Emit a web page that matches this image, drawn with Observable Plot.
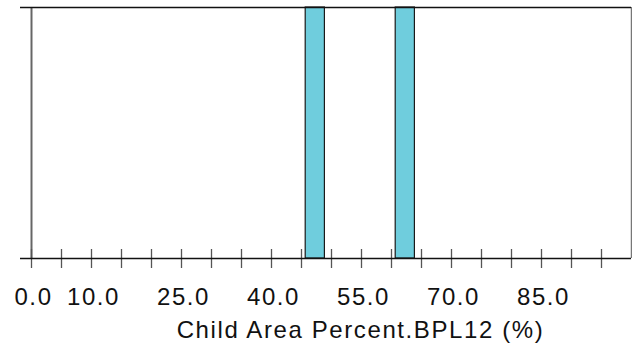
<!DOCTYPE html>
<html><head><meta charset="utf-8">
<script src="https://cdn.jsdelivr.net/npm/d3@7"></script>
<script src="https://cdn.jsdelivr.net/npm/@observablehq/plot@0.6"></script>
<style>
body{margin:0;background:#fff}
svg{display:block}
svg text{letter-spacing:1.6px}
</style>
</head><body><div id="chart"></div>
<script>
const binStart = [45.7, 60.7];
const binEnd = [48.9, 63.9];
const counts = [1, 1];
const tickValues = d3.range(0, 100, 5);
const tickLabels = [0, 10, 25, 40, 55, 70, 85];
const xLabel = "Child Area Percent.BPL12 (%)";

const bins = binStart.map((s, i) => ({x1: s, x2: binEnd[i], count: counts[i]}));
const font = "'Liberation Sans', Arial, sans-serif";

const chart = Plot.plot({
  width: 632, height: 343,
  marginLeft: 31, marginRight: 1, marginTop: 7, marginBottom: 85,
  x: {domain: [0, 100]},
  y: {domain: [0, 1]},
  style: {fontFamily: font, background: "#fff", color: "#111"},
  marks: [
    Plot.rectY(bins, {x1: "x1", x2: "x2", y: "count", fill: "#6fcddd", stroke: "#1a1a1a", strokeWidth: 1.2}),
    Plot.ruleX([0], {y1: 0, y2: 1, stroke: "#666", strokeWidth: 2}),
    Plot.ruleX([100], {y1: 0, y2: 1, stroke: "#777", strokeWidth: 1.5}),
    Plot.ruleX(tickValues, {y1: 0, y2: 0, insetTop: -9, insetBottom: -10, stroke: "#555", strokeWidth: 1.3}),
    Plot.ruleY([0, 1], {stroke: "#111", strokeWidth: 1.5}),
    Plot.axisY({ticks: [0, 1], tickSize: 11, tickFormat: () => "", stroke: "#111", strokeWidth: 1.5, label: null}),
    Plot.axisX({ticks: tickLabels, tickSize: 0, tickPadding: 29, dx: 2, tickFormat: d => d.toFixed(1), fontSize: 24, label: null, fill: "#111"}),
    Plot.text([xLabel], {frameAnchor: "bottom", dx: 29, dy: 62, lineAnchor: "top", fontSize: 24, fill: "#111"})
  ]
});
document.getElementById("chart").appendChild(chart);
</script>
</body></html>
